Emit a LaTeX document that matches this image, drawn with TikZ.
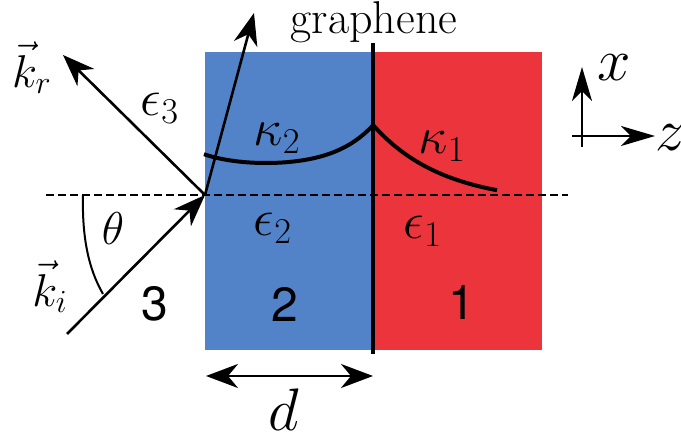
\RequirePackage{fix-cm}
\documentclass[tikz,border=0pt]{standalone}
\usepackage{fontspec}
\setsansfont{TeX Gyre Heros}
\usepackage{tikz}
\usetikzlibrary{arrows.meta}
\definecolor{layerblue}{RGB}{82,131,201}
\definecolor{layerred}{RGB}{236,52,60}
\tikzset{
  ray/.style   ={-{Stealth[length=16pt, width=12pt, inset=5pt]}, line width=1.3pt}, % wave vectors
  field/.style ={line width=2pt},                                                   % field profile
  sheet/.style ={line width=2pt},                                                   % graphene
  axis/.style  ={-{Stealth[length=17pt, width=10pt, inset=5pt]}, line width=1.2pt},
  guide/.style ={line width=1pt, dash pattern=on 4pt off 2pt},
  num/.style   ={font=\fontsize{24}{28}\sffamily},
  med/.style   ={font=\fontsize{26}{30}\selectfont},
  big/.style   ={font=\fontsize{30}{34}\selectfont, inner sep=0pt},
}

\begin{document}
\begin{tikzpicture}[x=0.5pt, y=-0.5pt, font=\fontsize{23}{27}\selectfont]
  \useasboundingbox (0,0) rectangle (681,432);
  % layers
  \fill[layerblue] (205,52) rectangle (372,350);
  \fill[layerred]  (372,52) rectangle (542,350);
  \coordinate (gtop) at (373,43);
  \coordinate (gbot) at (373,354);
  \draw[sheet] (gtop) -- (gbot);
  \node[anchor=base, inner sep=0pt] (graph) at (374,34) {graphene};
  % normal
  \coordinate (nl) at (46,195);
  \coordinate (nr) at (568,195);
  \draw[guide] (nl) -- (nr);
  % rays
  \coordinate (O)  at (205,195);
  \coordinate (ki) at (67,334);
  \coordinate (kr) at (63,55);
  \coordinate (kt) at (254,13);
  \draw[ray] (ki) -- (O);
  \draw[ray] (O) -- (kr);
  \draw[ray] (O) -- (kt);
  \coordinate (th1) at (83,195);
  \coordinate (th2) at (103,294);
  \draw[line width=1pt] (th1) .. controls (82,236) and (88,268) .. (th2);
  % field profile
  \draw[field] plot[domain=204:373, samples=60] (\x, {163-6.0*(cosh((\x-266)/40)-1)});
  \draw[field] plot[domain=373:497, samples=40] (\x, {125+78.6*(1-exp(-(\x-373)/70))});
  % labels
  \node (lkr) at (32,68)   {$\vec{k}_r$};
  \node (lki) at (50,287)  {$\vec{k}_i$};
  \node (lth) at (113,229) {$\theta$};
  \node[med] (le3) at (160,108) {$\epsilon_3$};
  \node[med] (le2) at (273,228) {$\epsilon_2$};
  \node[med] (le1) at (423,231) {$\epsilon_1$};
  \node[med] (lk2) at (277,138) {$\kappa_2$};
  \node[med] (lk1) at (442,146) {$\kappa_1$};
  \node[num] (m3) at (155,304) {3};
  \node[num] (m2) at (285,304) {2};
  \node[num] (m1) at (462,302) {1};
  % thickness
  \coordinate (dl) at (206,376);
  \coordinate (dr) at (373,376);
  \draw[{Stealth[length=16pt, width=12pt, inset=5pt]}-{Stealth[length=16pt, width=12pt, inset=5pt]}, line width=1.3pt] (dl) -- (dr);
  \node[big] (ld) at (284,410) {$d$};
  % axes
  \coordinate (ax) at (582,136);
  \coordinate (axb) at (582,147);
  \coordinate (axl) at (572,136);
  \coordinate (axx) at (582,67);
  \coordinate (axz) at (655,136);
  \draw[axis] (axb) -- (axx);
  \draw[axis] (axl) -- (axz);
  \node[big] (lx) at (614,68)  {$x$};
  \node[big] (lz) at (670,138) {$z$};
\end{tikzpicture}
\end{document}
